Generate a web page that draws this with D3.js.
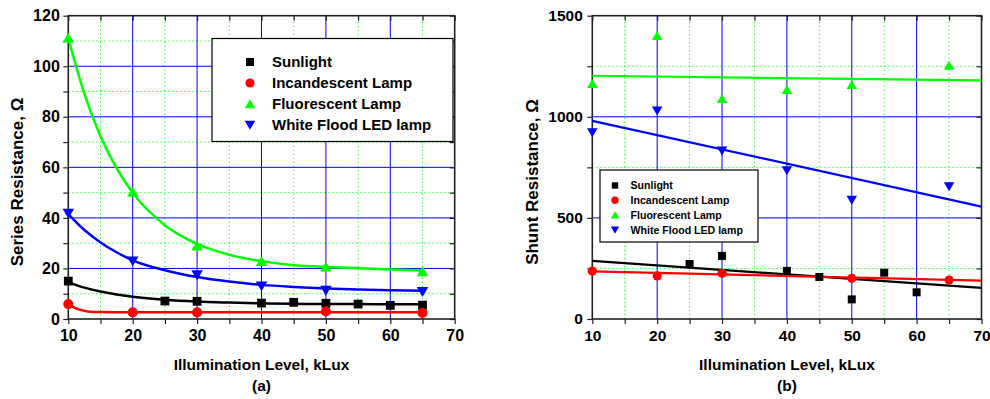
<!DOCTYPE html>
<html><head><meta charset="utf-8">
<script src="https://cdn.jsdelivr.net/npm/d3@7"></script>
<style>body{margin:0;background:#fff}svg{display:block}text{font-family:Arial,"Liberation Sans",sans-serif;font-weight:bold}</style>
</head><body>
<svg id="c" width="990" height="399"></svg>
<script>
// ---------- Panel (a): Series resistance ----------
const seriesNames = ["Sunlight","Incandescent Lamp","Fluorescent Lamp","White Flood LED lamp"];
const seriesColors = ["#000000","#ff0000","#00ff00","#0000ff"];
const seriesShapes = ["square","circle","up","down"];

const xMajorTicks = [10,20,30,40,50,60,70];
const xMinorTicks = [15,25,35,45,55,65];
const aYMajorTicks = [0,20,40,60,80,100,120];
const aYMinorTicks = [10,30,50,70,90,110];
const bYMajorTicks = [0,500,1000,1500];
const bYMinorTicks = [250,750,1250];

const aSunX = [10,25,30,40,45,50,55,60,65];
const aSunY = [15.0,7.1,7.0,6.3,6.6,6.2,5.9,5.4,5.5];
const aIncX = [10,20,30,50,65];
const aIncY = [5.9,2.6,2.6,3.0,2.4];
const aFluX = [10,20,30,40,50,65];
const aFluY = [111.2,50.2,29.0,22.8,20.6,18.8];
const aLedX = [10,20,30,40,50,65];
const aLedY = [41.8,22.9,17.4,13.0,11.3,10.8];

// fitted curves
const aFitX = [10,12.5,15,17.5,20,25,30,35,40,45,50,55,60,65];
const aSunFit = [14.5,12.4,10.9,9.7,8.8,7.6,6.9,6.5,6.2,6.0,5.9,5.9,5.8,5.8];
const aFluFit = [111,89.1,72.3,59.7,49.9,37.1,29.7,25.4,22.9,21.3,20.6,20.1,19.6,19.2];
const aLedFit = [41.5,35.2,30.3,26.4,23.2,19.3,16.6,14.8,13.5,12.7,12.1,11.7,11.4,11.2];
const aIncFitX = [10,11,12,13,15,20,30,40,50,65];
const aIncFit = [6.0,4.4,3.5,3.0,2.75,2.7,2.7,2.7,2.7,2.7];

// ---------- Panel (b): Shunt resistance ----------
const bSunX = [25,30,40,45,50,55,60];
const bSunY = [272,312,238,208,97,229,132];
const bIncX = [10,20,30,50,65];
const bIncY = [237,213,226,201,193];
const bFluX = [10,20,30,40,50,65];
const bFluY = [1163,1401,1089,1134,1158,1254];
const bLedX = [10,20,30,40,50,65];
const bLedY = [922,1030,832,734,589,655];

const bFitX = [10,70];
const bSunFit = [287,154];
const bIncFit = [236,190];
const bFluFit = [1203,1180];
const bLedFit = [980,556];

const svg = d3.select("#c");

function shapePath(shape, s){
  const h = s/2;
  if(shape==="square") return `M${-h*0.8},${-h*0.8}H${h*0.8}V${h*0.8}H${-h*0.8}Z`;
  if(shape==="circle") return d3.symbol(d3.symbolCircle, Math.PI*(h*0.92)*(h*0.92))();
  if(shape==="up") return `M0,${-h*0.95}L${h*1.05},${h*0.85}L${-h*1.05},${h*0.85}Z`;
  if(shape==="down") return `M0,${h*0.95}L${h*1.05},${-h*0.85}L${-h*1.05},${-h*0.85}Z`;
}

function panel(cfg){
  const x = d3.scaleLinear().domain([10,70]).range([cfg.x0,cfg.x1]);
  const y = d3.scaleLinear().domain(cfg.yDomain).range([319,15.7]);
  const g = svg.append("g");
  // minor grid
  g.selectAll(null).data(xMinorTicks).join("line")
    .attr("x1",d=>x(d)).attr("x2",d=>x(d)).attr("y1",y.range()[0]).attr("y2",y.range()[1])
    .attr("stroke","#00ff00").attr("stroke-width",1).attr("stroke-dasharray","1.2,2.8");
  g.selectAll(null).data(cfg.yMinor).join("line")
    .attr("y1",d=>y(d)).attr("y2",d=>y(d)).attr("x1",cfg.x0).attr("x2",cfg.x1)
    .attr("stroke","#00ff00").attr("stroke-width",1).attr("stroke-dasharray","1.2,2.8");
  // major grid
  g.selectAll(null).data(xMajorTicks.slice(1,-1)).join("line")
    .attr("x1",d=>x(d)).attr("x2",d=>x(d)).attr("y1",y.range()[0]).attr("y2",y.range()[1])
    .attr("stroke","#0000ff").attr("stroke-width",1);
  g.selectAll(null).data(cfg.yMajor.slice(1,-1)).join("line")
    .attr("y1",d=>y(d)).attr("y2",d=>y(d)).attr("x1",cfg.x0).attr("x2",cfg.x1)
    .attr("stroke","#0000ff").attr("stroke-width",1);

  // axes
  const fs = cfg.tickFont;
  const axB = g.append("g").attr("transform",`translate(0,319)`)
    .call(d3.axisBottom(x).tickValues(xMajorTicks).tickSize(5).tickSizeOuter(0).tickPadding(6).tickFormat(d3.format("d")));
  g.append("g").attr("transform",`translate(0,319)`)
    .call(d3.axisBottom(x).tickValues(xMinorTicks).tickSize(5).tickSizeOuter(0).tickFormat(""));
  const axL = g.append("g").attr("transform",`translate(${cfg.x0},0)`)
    .call(d3.axisLeft(y).tickValues(cfg.yMajor).tickSize(5).tickSizeOuter(0).tickPadding(cfg.yPad).tickFormat(d3.format("d")));
  g.append("g").attr("transform",`translate(${cfg.x0},0)`)
    .call(d3.axisLeft(y).tickValues(cfg.yMinor).tickSize(5).tickSizeOuter(0).tickFormat(""));
  g.append("g").attr("transform",`translate(0,15.7)`)
    .call(d3.axisTop(x).tickValues(xMajorTicks.concat(xMinorTicks)).tickSize(-5).tickSizeOuter(0).tickFormat(""));
  g.append("g").attr("transform",`translate(${cfg.x1},0)`)
    .call(d3.axisRight(y).tickValues(cfg.yMajor.concat(cfg.yMinor)).tickSize(-5).tickSizeOuter(0).tickFormat(""));
  g.selectAll(".domain").remove();
  g.selectAll(".tick line").attr("stroke","#222").attr("stroke-width",1.2);
  axB.selectAll("text").attr("font-size",fs).attr("fill","#000");
  axL.selectAll("text").attr("font-size",fs).attr("fill","#000");
  g.append("rect").attr("x",cfg.x0).attr("y",15.7).attr("width",cfg.x1-cfg.x0).attr("height",319-15.7)
    .attr("fill","none").attr("stroke","#222").attr("stroke-width",1.6);

  // fits
  const line = d3.line().x(d=>x(d[0])).y(d=>y(d[1])).curve(d3.curveMonotoneX);
  cfg.fits.forEach((f,i)=>{
    g.append("path").attr("d",line(d3.zip(f.x,f.y))).attr("fill","none")
      .attr("stroke",seriesColors[i]).attr("stroke-width",cfg.lw);
  });
  // markers
  cfg.pts.forEach((p,i)=>{
    g.selectAll(null).data(d3.zip(p.x,p.y)).join("path")
      .attr("transform",d=>`translate(${x(d[0])},${y(d[1])})`)
      .attr("d",shapePath(seriesShapes[i],cfg.ms)).attr("fill",seriesColors[i]);
  });

  // titles
  g.append("text").attr("transform",`translate(${cfg.ytX},182) rotate(-90)`).attr("text-anchor","middle")
    .attr("font-size",17).text(cfg.yTitle);
  const cx = (cfg.x0+cfg.x1)/2;
  g.append("text").attr("x",cx).attr("y",370).attr("text-anchor","middle").attr("font-size",15.5)
    .text("Illumination Level, kLux");
  g.append("text").attr("x",cx).attr("y",391).attr("text-anchor","middle").attr("font-size",15.5)
    .text(cfg.label);

  // legend
  const L = cfg.legend;
  const lg = g.append("g");
  lg.append("rect").attr("x",L.x).attr("y",L.y).attr("width",L.w).attr("height",L.h)
    .attr("fill","#fff").attr("stroke","#000").attr("stroke-width",1.2);
  seriesNames.forEach((n,i)=>{
    const yy = L.r0 + i*L.dy;
    lg.append("path").attr("transform",`translate(${L.mx},${yy})`)
      .attr("d",shapePath(seriesShapes[i],L.ms)).attr("fill",seriesColors[i]);
    lg.append("text").attr("x",L.tx).attr("y",yy).attr("dy","0.36em").attr("font-size",L.fs).text(n);
  });
}

panel({
  x0:68.3, x1:454.7, yDomain:[0,120], yMajor:aYMajorTicks, yMinor:aYMinorTicks,
  tickFont:16, yPad:3.5, lw:2.5, ms:11, ytX:23, yTitle:"Series Resistance, Ω", label:"(a)",
  fits:[{x:aFitX,y:aSunFit},{x:aIncFitX,y:aIncFit},{x:aFitX,y:aFluFit},{x:aFitX,y:aLedFit}],
  pts:[{x:aSunX,y:aSunY},{x:aIncX,y:aIncY},{x:aFluX,y:aFluY},{x:aLedX,y:aLedY}],
  legend:{x:212,y:38.5,w:241,h:103,mx:250,tx:272,r0:62,dy:21,ms:10,fs:15}
});
panel({
  x0:592.3, x1:981.5, yDomain:[0,1500], yMajor:bYMajorTicks, yMinor:bYMinorTicks,
  tickFont:15.5, yPad:4.5, lw:2.2, ms:10, ytX:538, yTitle:"Shunt Resistance, Ω", label:"(b)",
  fits:[{x:bFitX,y:bSunFit},{x:bFitX,y:bIncFit},{x:bFitX,y:bFluFit},{x:bFitX,y:bLedFit}],
  pts:[{x:bSunX,y:bSunY},{x:bIncX,y:bIncY},{x:bFluX,y:bFluY},{x:bLedX,y:bLedY}],
  legend:{x:600,y:170,w:158,h:72,mx:615,tx:630.5,r0:185.5,dy:14.8,ms:8,fs:10.6}
});
</script>
</body></html>
